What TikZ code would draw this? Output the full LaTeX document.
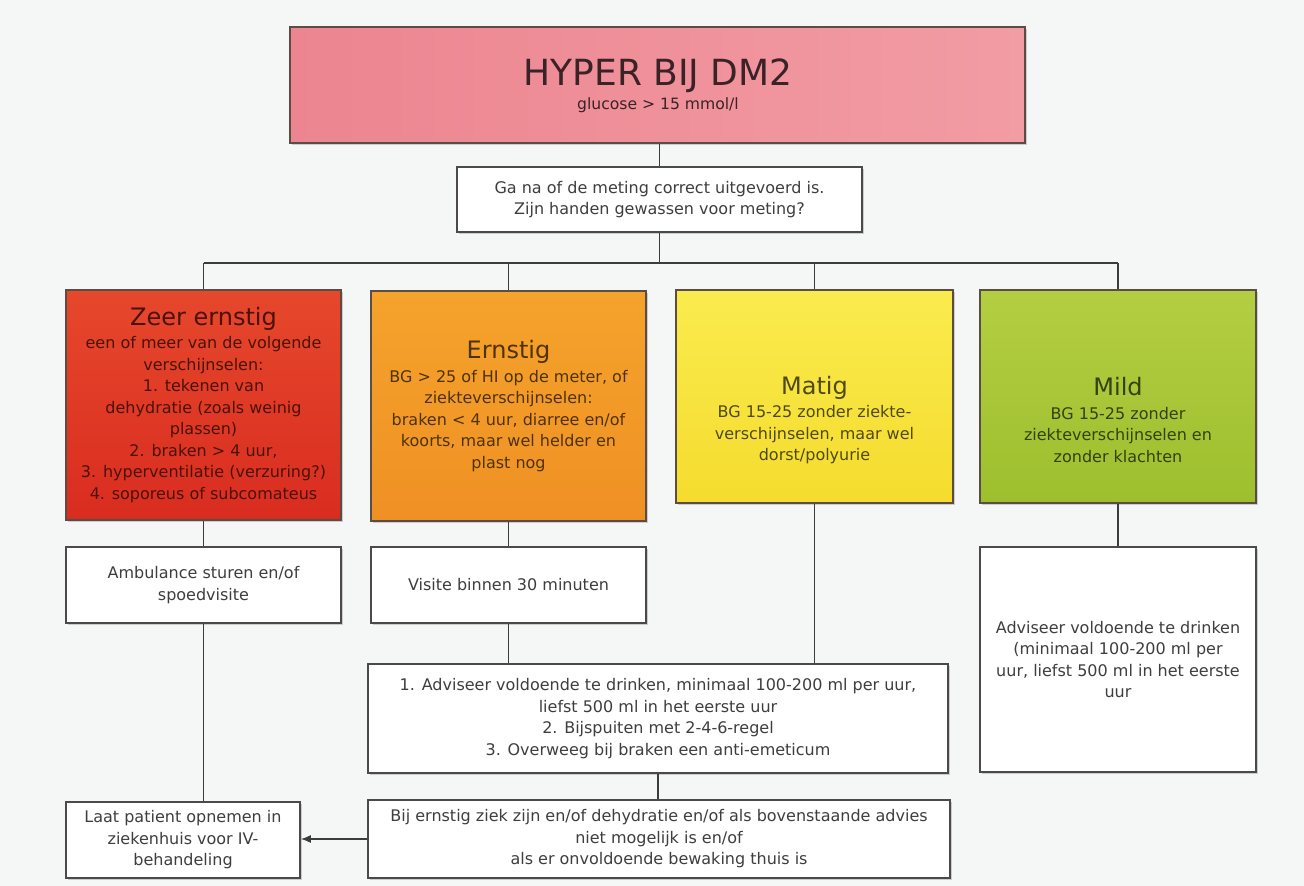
\documentclass[tikz,border=0pt]{standalone}
\usepackage{fontspec}
\setmainfont{DejaVu Sans}
\usetikzlibrary{shadows,arrows.meta}
\definecolor{bgc}{HTML}{F5F6F6}
\definecolor{boxline}{HTML}{4A4A4A}
\definecolor{cboxline}{HTML}{5A4E44}
\definecolor{conn}{HTML}{3C3C3C}
\definecolor{txt}{HTML}{3E3E3E}
\definecolor{topA}{HTML}{EC8590}
\definecolor{topB}{HTML}{F29CA4}
\definecolor{topT}{HTML}{3A2226}
\definecolor{zeA}{HTML}{E6482C}
\definecolor{zeB}{HTML}{D92C20}
\definecolor{zeT}{HTML}{4A1208}
\definecolor{erA}{HTML}{F5A32C}
\definecolor{erB}{HTML}{EF9024}
\definecolor{erT}{HTML}{4E3208}
\definecolor{maA}{HTML}{FAEB4E}
\definecolor{maB}{HTML}{F5DC2E}
\definecolor{maT}{HTML}{4E4A12}
\definecolor{miA}{HTML}{B4CE42}
\definecolor{miB}{HTML}{9DBF2E}
\definecolor{miT}{HTML}{33420F}
\begin{document}
\begin{tikzpicture}[x=0.5pt,y=-0.5pt,
  shad/.style={drop shadow={shadow xshift=1pt,shadow yshift=-1pt,opacity=0.35}},
  wbox/.style={draw=boxline,line width=0.8pt,fill=white,shad,align=center,inner sep=0pt,
    text=txt,font=\fontsize{8}{10.75}\selectfont},
  cbox/.style={draw=cboxline,line width=0.8pt,shad,align=center,inner sep=0pt,
    font=\fontsize{8}{10.75}\selectfont},
  ttext/.style={align=center,inner sep=0pt,font=\fontsize{8}{10.75}\selectfont},
  link/.style={draw=conn,line width=0.7pt}]
\useasboundingbox[fill=bgc] (0,0) rectangle (1304,886);

% top
\node[cbox,left color=topA,right color=topB,text=topT,minimum width=367.5pt,minimum height=58pt]
  (top) at (657.5,85) {};
\node[ttext,text=topT] (topText) at (658,86) {{\fontsize{18}{20}\selectfont HYPER BIJ DM2}\\[1.5pt]{\fontsize{7.8}{9}\selectfont glucose > 15 mmol/l}};
\node[wbox,minimum width=202.5pt,minimum height=32.5pt] (check) at (659.5,199.5)
  {Ga na of de meting correct uitgevoerd is.\\Zijn handen gewassen voor meting?};

% severity boxes
\node[cbox,top color=zeA,bottom color=zeB,text=zeT,minimum width=137.5pt,minimum height=115pt]
  (ze) at (203.5,405) {{\fontsize{12}{14}\selectfont Zeer ernstig}\\[1pt]een of meer van de volgende\\verschijnselen:\\1. tekenen van\\dehydratie (zoals weinig\\plassen)\\2. braken > 4 uur,\\3. hyperventilatie (verzuring?)\\4. soporeus of subcomateus};
\node[cbox,top color=erA,bottom color=erB,text=erT,minimum width=137.5pt,minimum height=115pt]
  (er) at (508.5,406) {{\fontsize{12}{14}\selectfont Ernstig}\\[1pt]BG > 25 of HI op de meter, of\\ziekteverschijnselen:\\braken < 4 uur, diarree en/of\\koorts, maar wel helder en\\plast nog};
\node[cbox,top color=maA,bottom color=maB,minimum width=138.5pt,minimum height=106.5pt]
  (ma) at (814.5,396.5) {};
\node[ttext,text=maT] (maText) at (814.5,420) {{\fontsize{12}{14}\selectfont Matig}\\[1pt]BG 15-25 zonder ziekte-\\verschijnselen, maar wel\\dorst/polyurie};
\node[cbox,top color=miA,bottom color=miB,minimum width=138pt,minimum height=106.5pt]
  (mi) at (1118,396.5) {};
\node[ttext,text=miT] (miText) at (1118,420) {{\fontsize{12}{14}\selectfont Mild}\\[1pt]BG 15-25 zonder\\ziekteverschijnselen en\\zonder klachten};

% action boxes
\node[wbox,minimum width=137.5pt,minimum height=38pt] (amb) at (203.5,585)
  {Ambulance sturen en/of\\spoedvisite};
\node[wbox,minimum width=137.5pt,minimum height=38pt] (vis) at (508.5,585)
  {Visite binnen 30 minuten};
\node[wbox,minimum width=138pt,minimum height=112.5pt] (mia) at (1118,659.5)
  {Adviseer voldoende te drinken\\(minimaal 100-200 ml per\\uur, liefst 500 ml in het eerste\\uur};
\node[wbox,minimum width=290pt,minimum height=54.5pt] (adv) at (658,718.5)
  {1. Adviseer voldoende te drinken, minimaal 100-200 ml per uur,\\liefst 500 ml in het eerste uur\\2. Bijspuiten met 2-4-6-regel\\3. Overweeg bij braken een anti-emeticum};
\node[wbox,minimum width=291pt,minimum height=39pt] (bot) at (659,839)
  {Bij ernstig ziek zijn en/of dehydratie en/of als bovenstaande advies\\niet mogelijk is en/of\\als er onvoldoende bewaking thuis is};
\node[wbox,minimum width=117pt,minimum height=38pt] (laat) at (183,840)
  {Laat patient opnemen in\\ziekenhuis voor IV-\\behandeling};

% connectors
\coordinate (bus) at (660,263);
\draw[link] (top.south -| check.north) -- (check.north);
\draw[link] (check.south) -- (check.south |- bus);
\draw[link] (ze.north |- bus) -- (mi.north |- bus);
\foreach \n in {ze,er,ma,mi} \draw[link] (\n.north |- bus) -- (\n.north);
\draw[link] (ze.south) -- (amb.north);
\draw[link] (er.south) -- (er.south |- vis.north);
\draw[link] (mi.south) -- (mia.north);
\draw[link] (ma.south) -- (ma.south |- adv.north);
\draw[link] (vis.south) -- (vis.south |- adv.north);
\draw[link] (amb.south) -- (amb.south |- laat.north);
\draw[link] (adv.south) -- (adv.south |- bot.north);
\draw[link,-{Latex[length=5pt,width=4pt]}] (bot.west) -- (bot.west -| laat.east);
\end{tikzpicture}
\end{document}
